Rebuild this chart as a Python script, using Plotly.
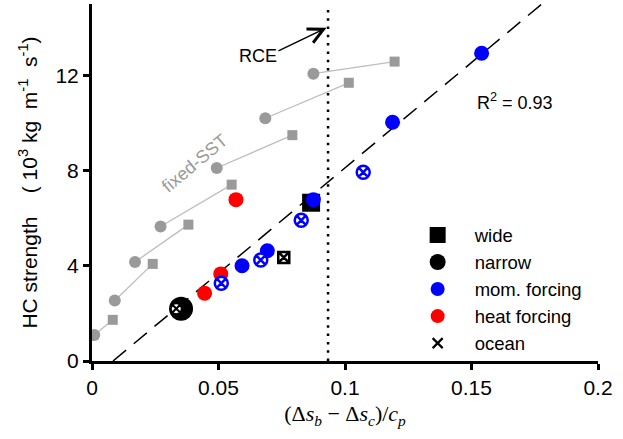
import plotly.graph_objects as go

# ---------------- data ----------------
# fixed-SST runs (grey): circles and squares, each circle joined to its square
sst_circle_x = [0.0009, 0.009, 0.017, 0.0271, 0.0493, 0.0685, 0.0875]
sst_circle_y = [1.09, 2.54, 4.16, 5.65, 8.11, 10.2, 12.07]
sst_square_x = [0.0082, 0.024, 0.0381, 0.0552, 0.0792, 0.1015, 0.1196]
sst_square_y = [1.73, 4.08, 5.73, 7.41, 9.49, 11.69, 12.58]

# momentum forcing (blue filled)
mom_x = [0.0593, 0.0693, 0.0875, 0.1188, 0.154]
mom_y = [4.0, 4.63, 6.78, 10.03, 12.93]
# momentum forcing with ocean (blue circle-x)
mom_ocean_x = [0.0511, 0.0667, 0.0827, 0.1072]
mom_ocean_y = [3.27, 4.24, 5.91, 7.93]
# heat forcing (red)
heat_x = [0.0445, 0.0509, 0.0569]
heat_y = [2.85, 3.66, 6.78]
# control runs
wide_x, wide_y = [0.0866], [6.65]
wide_ocean_x, wide_ocean_y = [0.0758], [4.35]
narrow_x, narrow_y = [0.0352], [2.2]
narrow_ocean_x, narrow_ocean_y = [0.0333], [2.2]

# regression fit and RCE line
fit_slope, fit_intercept = 88.5, -0.735
fit_x_end = 0.1778
rce_x = 0.0933
r2_text = "R<sup>2</sup> = 0.93"

x_ticks = [0, 0.05, 0.1, 0.15, 0.2]
x_ticktext = ["0", "0.05", "0.1", "0.15", "0.2"]
y_ticks = [0, 4, 8, 12]
y_ticktext = ["0", "4", "8", "12"]

legend_names = ["wide", "narrow", "mom. forcing", "heat forcing", "ocean"]

# ---------------- figure ----------------
GREY = "#9a9a9a"
LGREY = "#bdbdbd"
BLUE = "#0000ff"
RED = "#ff0000"
FONT = "Liberation Sans"

fig = go.Figure()

# grey connecting lines (circle -> square)
lx, ly = [], []
for cx, cy, sx, sy in zip(sst_circle_x, sst_circle_y, sst_square_x, sst_square_y):
    lx += [cx, sx, None]
    ly += [cy, sy, None]
fig.add_trace(go.Scatter(x=lx, y=ly, mode="lines", line=dict(color=LGREY, width=1.3),
                         showlegend=False, hoverinfo="skip"))
fig.add_trace(go.Scatter(x=sst_circle_x, y=sst_circle_y, mode="markers",
                         marker=dict(symbol="circle", size=12, color=GREY), showlegend=False))
fig.add_trace(go.Scatter(x=sst_square_x, y=sst_square_y, mode="markers",
                         marker=dict(symbol="square", size=10, color=GREY), showlegend=False))

# regression line
x0 = -fit_intercept / fit_slope
fig.add_trace(go.Scatter(x=[x0, fit_x_end],
                         y=[fit_slope * x0 + fit_intercept, fit_slope * fit_x_end + fit_intercept],
                         mode="lines", line=dict(color="black", width=1.5, dash="17px,10px"),
                         showlegend=False, hoverinfo="skip"))
# RCE dotted line
fig.add_trace(go.Scatter(x=[rce_x, rce_x], y=[0, 15], mode="lines",
                         line=dict(color="black", width=2.5, dash="2.5px,5.8px"),
                         showlegend=False, hoverinfo="skip"))

# control runs
fig.add_trace(go.Scatter(x=wide_x, y=wide_y, mode="markers",
                         marker=dict(symbol="square", size=18, color="black"), showlegend=False))
fig.add_trace(go.Scatter(x=narrow_x, y=narrow_y, mode="markers",
                         marker=dict(symbol="circle", size=24, color="black"), showlegend=False))
# heat forcing
fig.add_trace(go.Scatter(x=heat_x, y=heat_y, mode="markers",
                         marker=dict(symbol="circle", size=15, color=RED), showlegend=False))
# mom forcing
fig.add_trace(go.Scatter(x=mom_x, y=mom_y, mode="markers",
                         marker=dict(symbol="circle", size=15, color=BLUE), showlegend=False))
fig.add_trace(go.Scatter(x=mom_ocean_x, y=mom_ocean_y, mode="markers",
                         marker=dict(symbol="circle-x", size=13, color="white",
                                     line=dict(color=BLUE, width=2.5)), showlegend=False))
# ocean control runs
fig.add_trace(go.Scatter(x=wide_ocean_x, y=wide_ocean_y, mode="markers",
                         marker=dict(symbol="square-x", size=11, color="white",
                                     line=dict(color="black", width=2.5)), showlegend=False))
fig.add_trace(go.Scatter(x=narrow_ocean_x, y=narrow_ocean_y, mode="markers",
                         marker=dict(symbol="circle-x", size=11, color="white",
                                     line=dict(color="black", width=2)), showlegend=False))

# legend-only entries
legend_markers = [
    dict(symbol="square", size=16, color="black"),
    dict(symbol="circle", size=16, color="black"),
    dict(symbol="circle", size=14, color=BLUE),
    dict(symbol="circle", size=14, color=RED),
    dict(symbol="x-thin", size=10, color="black", line=dict(color="black", width=2.2)),
]
for i, (name, mk) in enumerate(zip(legend_names, legend_markers)):
    fig.add_trace(go.Scatter(x=[None], y=[None], mode="markers", marker=mk, name=name,
                             showlegend=True))

# annotations
fig.add_annotation(x=0.0656, y=12.8, text="RCE", showarrow=False,
                   font=dict(size=18, color="black", family=FONT))
fig.add_annotation(x=0.0927, y=14.0, ax=0.0731, ay=13.0, axref="x", ayref="y",
                   text="", showarrow=True, arrowhead=5, arrowsize=2, arrowwidth=1.5,
                   arrowcolor="black", standoff=0)
fig.add_annotation(x=0.1672, y=10.9, text=r2_text, showarrow=False,
                   font=dict(size=18, color="black", family=FONT))
fig.add_annotation(x=0.0407, y=8.33, text="fixed-SST", showarrow=False, textangle=-40,
                   font=dict(size=18, color=GREY, family=FONT))

fig.update_layout(
    width=623, height=439,
    margin=dict(l=92, r=25, t=4, b=78),
    plot_bgcolor="white", paper_bgcolor="white",
    font=dict(family=FONT, size=20, color="black"),
    showlegend=True,
    legend=dict(x=0.61, y=0.405, xanchor="left", yanchor="top",
                bgcolor="rgba(0,0,0,0)", font=dict(size=18.5, family=FONT),
                itemwidth=64, tracegroupgap=0),
)
fig.update_xaxes(range=[0, 0.2], tickvals=x_ticks, ticktext=x_ticktext,
                 showline=True, linewidth=3, linecolor="black", mirror=False,
                 ticks="outside", ticklen=6, tickwidth=3, tickcolor="black",
                 showgrid=False, zeroline=False, tickfont=dict(size=21),
                 title=dict(text="(Δ<i>s</i><sub><i>b</i></sub> − Δ<i>s</i><sub><i>c</i></sub>)/<i>c</i><sub><i>p</i></sub>",
                            font=dict(family="Liberation Serif", size=22), standoff=8))
fig.update_yaxes(range=[0, 15], tickvals=y_ticks, ticktext=y_ticktext,
                 showline=True, linewidth=3, linecolor="black",
                 ticks="outside", ticklen=6, tickwidth=3, tickcolor="black",
                 showgrid=False, zeroline=False, tickfont=dict(size=21),
                 title=dict(text="HC strength    ( 10<sup>3</sup> kg  m<sup>-1</sup>  s<sup>-1</sup>)",
                            font=dict(size=21), standoff=13))

fig.write_html("out.html")
